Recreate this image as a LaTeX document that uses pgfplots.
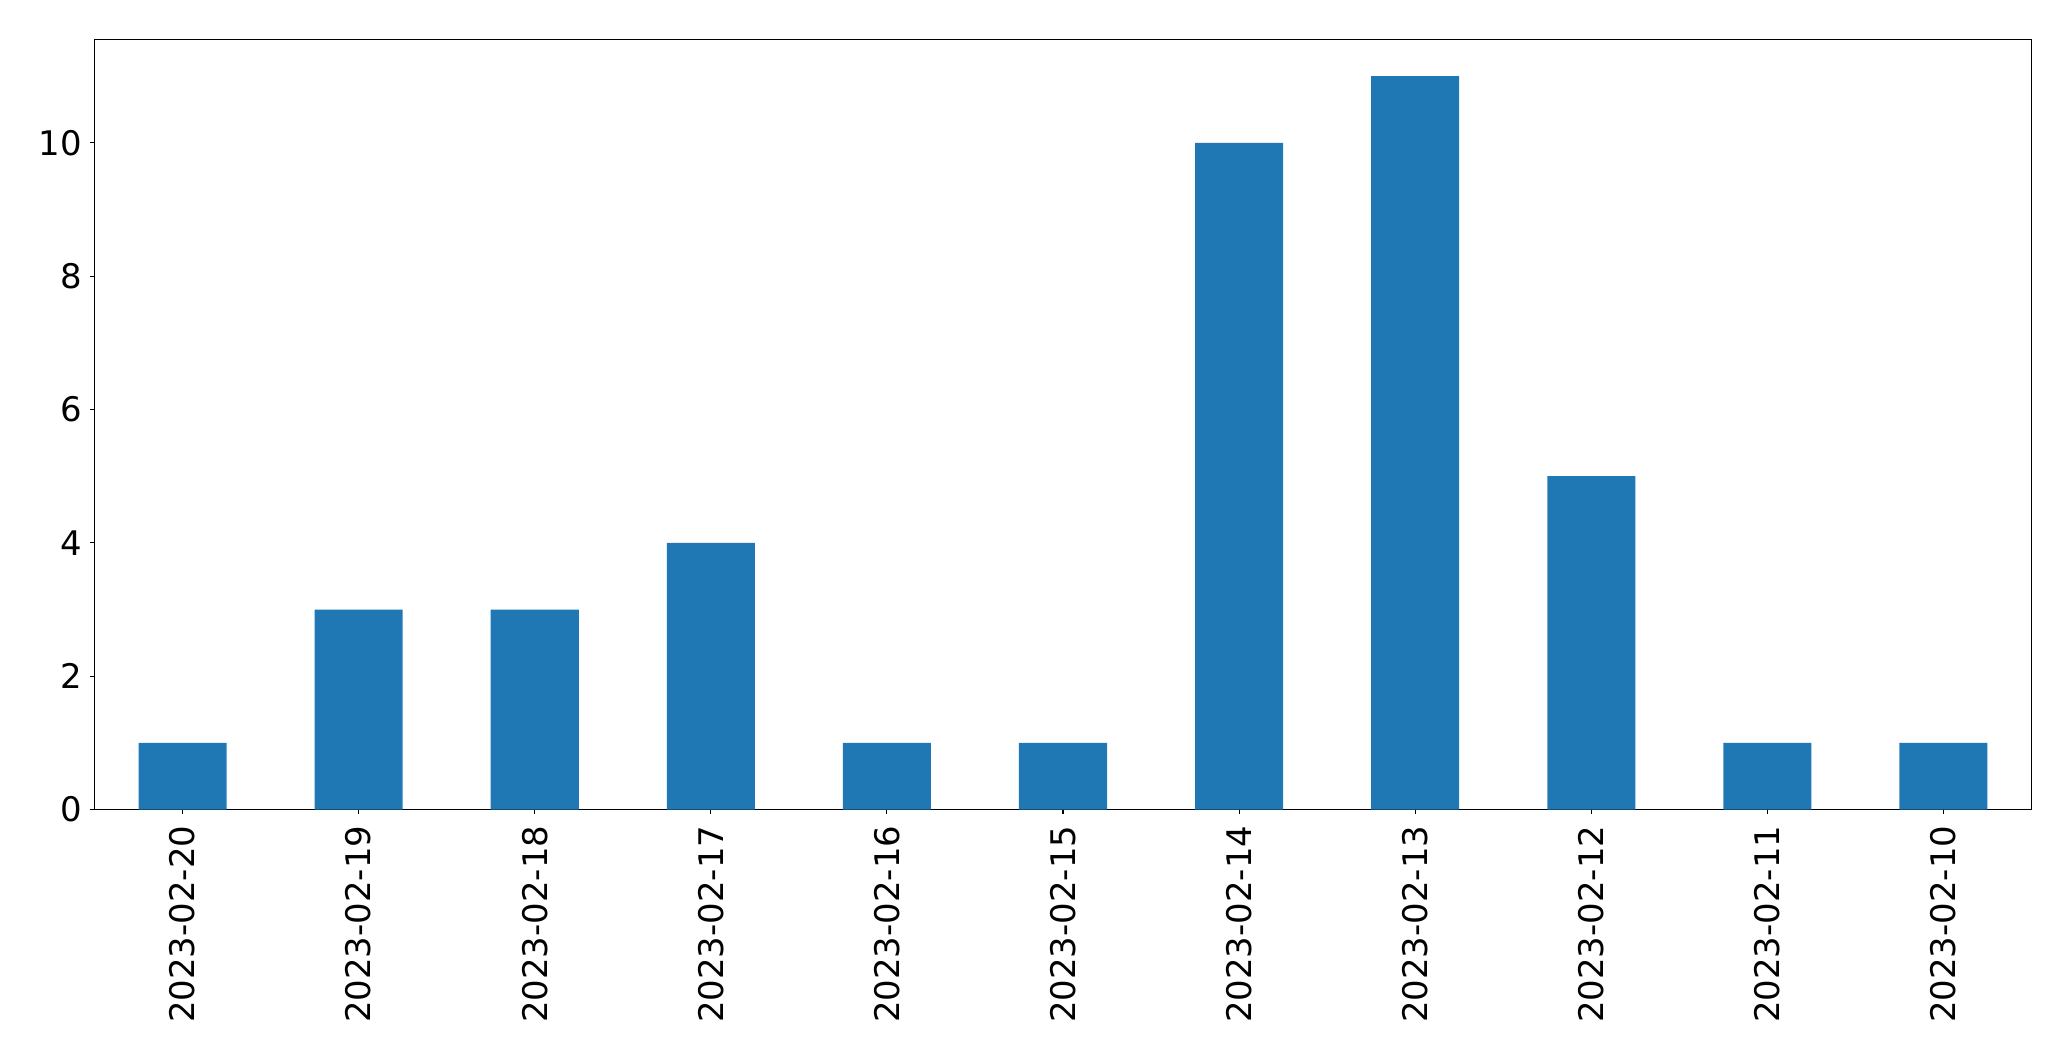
\documentclass[border=0pt]{standalone}
\usepackage{pgfplots}
\pgfplotsset{compat=1.18}
\usepackage{fontspec}
\setmainfont{DejaVu Sans}
\definecolor{mplblue}{HTML}{1F77B4}
\begin{document}
\fontsize{24pt}{28pt}\selectfont
\begin{tikzpicture}
\path[use as bounding box] (-68.04pt,-181.08pt) rectangle (1423.08pt,582.84pt);
\begin{axis}[
  scale only axis,
  width=1394.64pt, height=554.4pt,
  xmin=-0.5, xmax=10.5,
  ymin=0, ymax=11.55,
  xtick={0,...,10},
  xticklabels={2023-02-20,2023-02-19,2023-02-18,2023-02-17,2023-02-16,2023-02-15,2023-02-14,2023-02-13,2023-02-12,2023-02-11,2023-02-10},
  ytick={0,2,4,6,8,10},
  tick align=outside,
  major tick length=3.5pt,
  tick style={line width=0.8pt, black},
  axis line style={line width=0.8pt, black},
  xtick pos=bottom, ytick pos=left,
  /pgf/number format/assume math mode=true,
  tick label style={font=\fontsize{24.4pt}{28pt}\selectfont},
  xticklabel style={rotate=90, anchor=east, inner sep=0pt, xshift=0pt},
  yticklabel style={anchor=east, inner sep=0pt, xshift=-5.5pt},
  xticklabel shift=8pt,
]
\addplot[ybar, bar width=0.5, fill=mplblue, draw=none] coordinates {
(0,1) (1,3) (2,3) (3,4) (4,1) (5,1) (6,10) (7,11) (8,5) (9,1) (10,1)
};
\end{axis}
\end{tikzpicture}
\end{document}
